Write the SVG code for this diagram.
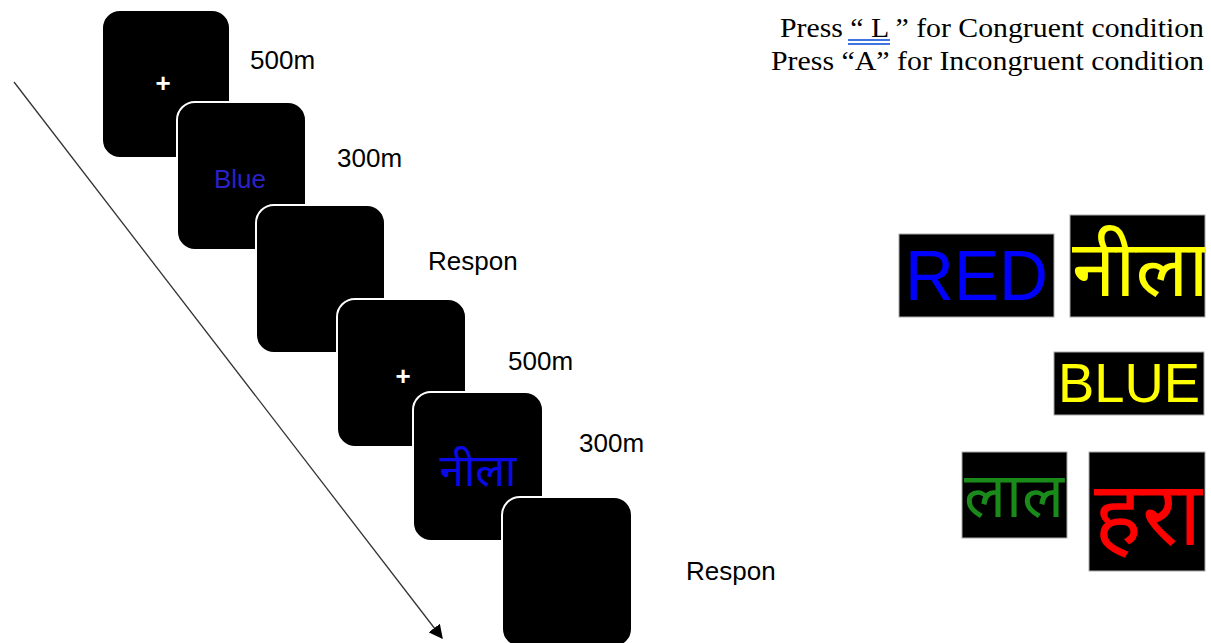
<svg xmlns="http://www.w3.org/2000/svg" width="1211" height="643" viewBox="0 0 1211 643">
<defs>
<style>
.card{fill:#000;stroke:#fff;stroke-width:2}
.lbl{font-family:"Liberation Sans",Arial,sans-serif;font-size:26px;fill:#000}
.cross{font-family:"Liberation Sans",Arial,sans-serif;font-size:26px;font-weight:bold;fill:#fff;text-anchor:middle}
.instr{font-family:"Liberation Serif","Times New Roman",serif;font-size:28px;fill:#000}
.box{fill:#000;stroke:#aaa;stroke-width:1}
.dev{font-family:"Noto Sans Devanagari","Noto Sans","Lohit Devanagari",sans-serif}
.lat{font-family:"Liberation Sans",Arial,sans-serif}
.ul{stroke:#3f74e0;stroke-width:2}
</style>
<marker id="ah" viewBox="0 0 10 10" refX="9" refY="5" markerWidth="14" markerHeight="14" markerUnits="userSpaceOnUse" orient="auto">
<path d="M0,0 L10,5 L0,10 z" fill="#000"/>
</marker>
<clipPath id="c1"><rect x="1070" y="215" width="135" height="102"/></clipPath>
<clipPath id="c2"><rect x="1089" y="452" width="116" height="119"/></clipPath>
</defs>
<rect width="1211" height="643" fill="#fff"/>
<g id="connectors">
<line x1="14" y1="82" x2="442" y2="638" stroke="#333" stroke-width="1.3" marker-end="url(#ah)"/>
</g>
<g id="card1"><rect class="card" x="102" y="10" width="128" height="148" rx="18"/><text class="cross" x="163" y="92">+</text></g>
<g id="card2"><rect class="card" x="177" y="102" width="129" height="148" rx="18"/><text x="240" y="188" text-anchor="middle" class="lat" font-size="26" fill="#2a22c8">Blue</text></g>
<g id="card3"><rect class="card" x="256" y="205" width="129" height="148" rx="18"/></g>
<g id="card4"><rect class="card" x="337" y="299" width="129" height="148" rx="18"/><text class="cross" x="403" y="385">+</text></g>
<g id="card5"><rect class="card" x="413" y="392" width="130" height="149" rx="18"/><text x="478" y="486" text-anchor="middle" class="dev" font-size="44" fill="#0a0ae6">नीला</text></g>
<g id="card6"><rect class="card" x="502" y="497" width="130" height="150" rx="18"/></g>
<g id="labels">
<text class="lbl" x="250" y="69">500m</text>
<text class="lbl" x="337" y="167">300m</text>
<text class="lbl" x="428" y="270">Respon</text>
<text class="lbl" x="508" y="370">500m</text>
<text class="lbl" x="579" y="452">300m</text>
<text class="lbl" x="686" y="580">Respon</text>
</g>
<g id="instructions">
<text class="instr" x="780" y="37" textLength="424" lengthAdjust="spacingAndGlyphs">Press “ L ” for Congruent condition</text>
<text class="instr" x="771" y="70" textLength="433" lengthAdjust="spacingAndGlyphs">Press “A” for Incongruent condition</text>
<line class="ul" x1="848" y1="40" x2="890" y2="40"/>
<line class="ul" x1="848" y1="44" x2="890" y2="44"/>
</g>
<g id="red"><rect class="box" x="899" y="234" width="155" height="83"/><text class="lat" x="905" y="300" font-size="70" fill="#0000ff" textLength="143" lengthAdjust="spacingAndGlyphs">RED</text></g>
<g id="nila"><rect class="box" x="1070" y="215" width="135" height="102"/><text class="dev" x="1072" y="296" font-size="78" fill="#ffff00" clip-path="url(#c1)">नीला</text></g>
<g id="blue"><rect class="box" x="1054" y="352" width="150" height="63"/><text class="lat" x="1058" y="402" font-size="56" fill="#ffff00" textLength="142" lengthAdjust="spacingAndGlyphs">BLUE</text></g>
<g id="lal"><rect class="box" x="962" y="452" width="105" height="86"/><text class="dev" x="964" y="517" font-size="62" fill="#1a8a1a">लाल</text></g>
<g id="hara"><rect class="box" x="1089" y="452" width="116" height="119"/><text class="dev" x="1094" y="545" font-size="90" fill="#ff0000" clip-path="url(#c2)">हरा</text></g>
</svg>
